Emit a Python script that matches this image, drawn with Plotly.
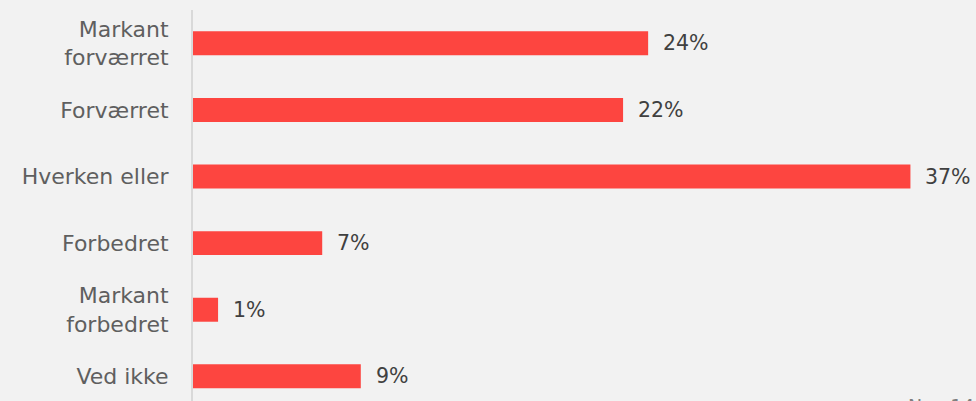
import plotly.graph_objects as go

categories = ["Markant<br>forværret", "Forværret", "Hverken eller", "Forbedret", "Markant<br>forbedret", "Ved ikke"]
values = [23.6, 22.3, 37.2, 6.7, 1.3, 8.7]
value_labels = ["24%", "22%", "37%", "7%", "1%", "9%"]
note_text = "N = 149"

FONT = "DejaVu Sans"
fig = go.Figure(go.Bar(
    x=values, y=categories, orientation="h",
    marker=dict(color="#FD4540", line=dict(width=0)),
    width=0.36,
))
for v, c, t in zip(values, categories, value_labels):
    fig.add_annotation(x=v, y=c, text=t, showarrow=False, xanchor="left", xshift=13,
                       font=dict(family=FONT, size=20.5, color="#404040"))
fig.add_annotation(xref="paper", yref="paper", x=0.91, y=0, text=note_text, showarrow=False,
                   xanchor="left", yanchor="top", yshift=8,
                   font=dict(family=FONT, size=19, color="#7f7f7f"))
fig.update_layout(
    width=976, height=401,
    margin=dict(l=193, r=0, t=10, b=0),
    paper_bgcolor="#F2F2F2", plot_bgcolor="#F2F2F2",
    showlegend=False,
    xaxis=dict(range=[0, 40.6], showgrid=False, zeroline=False, showticklabels=False, fixedrange=True),
    yaxis=dict(range=[5.37, -0.5], showgrid=False, zeroline=False, showline=True,
               linecolor="#D9D9D9", linewidth=2, ticks="", ticklabelstandoff=18,
               tickfont=dict(family=FONT, size=22, color="#5F5F5F")),
)
fig.write_html("out.html", config={"displayModeBar": False},
               post_script="document.body.style.margin='0';document.body.style.background='#F2F2F2';")
